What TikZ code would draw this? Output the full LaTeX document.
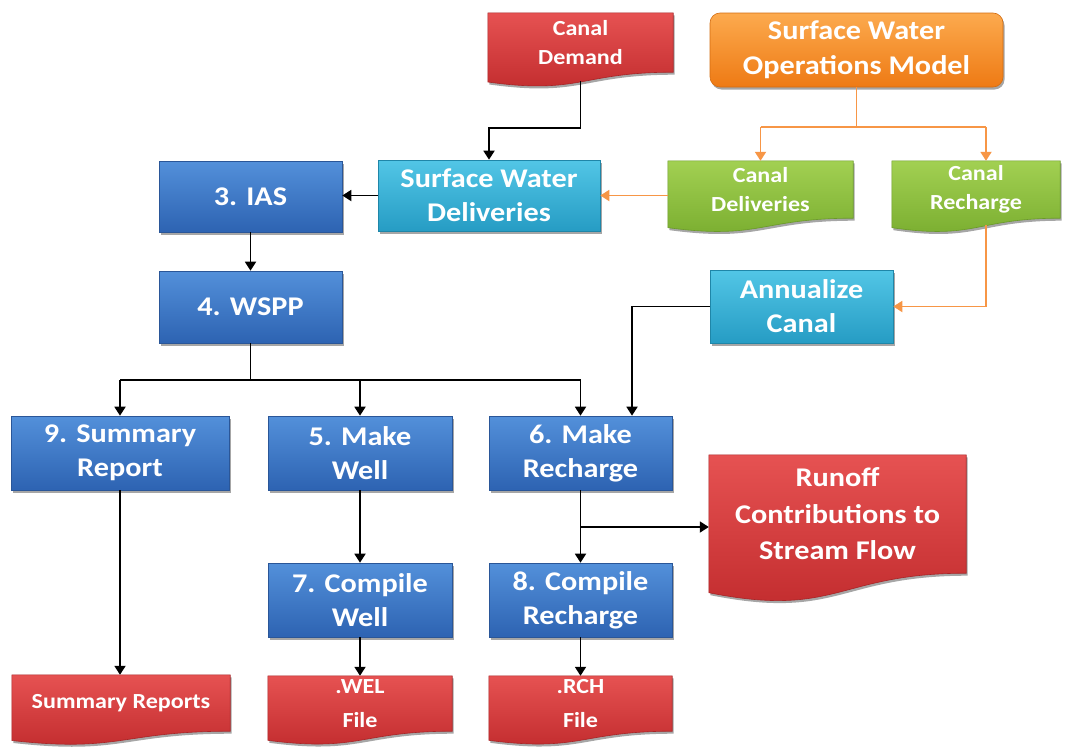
\documentclass[tikz,border=0pt]{standalone}
\usepackage{fontspec}
\setmainfont{Carlito}[FakeStretch=1.12]
\usetikzlibrary{arrows.meta,shadows,calc}
\pgfdeclarelayer{backdrop}
\pgfdeclarelayer{background}
\pgfsetlayers{backdrop,background,main}

% palettes: Top / Bot gradient stops and Edge outline
\definecolor{blueTop}{HTML}{5390DA}
\definecolor{blueBot}{HTML}{2D63B2}
\definecolor{blueEdge}{HTML}{2A5698}
\definecolor{cyanTop}{HTML}{52C6E6}
\definecolor{cyanBot}{HTML}{269CC4}
\definecolor{cyanEdge}{HTML}{1F86A8}
\definecolor{greenTop}{HTML}{A2D052}
\definecolor{greenBot}{HTML}{78AC2E}
\definecolor{greenEdge}{HTML}{6A9A28}
\definecolor{redTop}{HTML}{E65252}
\definecolor{redBot}{HTML}{C02A2C}
\definecolor{redEdge}{HTML}{A82426}
\definecolor{orangeTop}{HTML}{FCAA4E}
\definecolor{orangeBot}{HTML}{EE7A14}
\definecolor{orangeEdge}{HTML}{D46C10}
\definecolor{flowOrange}{HTML}{F79646}

\newcommand\bigtxt{\fontsize{27}{34}\selectfont\bfseries}
\newcommand\smalltxt{\fontsize{21.5}{29}\selectfont\bfseries}

\tikzset{
  shadowed/.style={drop shadow={shadow xshift=1.5pt,shadow yshift=-2.5pt,opacity=0.35,fill=black}},
  box/.style={rectangle, draw=#1Edge, line width=0.6pt,
    top color=#1Top, bottom color=#1Bot, text=white,
    align=center, inner sep=2pt, shadowed},
  docbox/.style={rectangle, text=white, align=center, inner sep=2pt},
  arr/.style={line width=1.8pt, draw=black, -{Triangle[length=9pt,width=11pt]}},
  oarr/.style={line width=1.8pt, draw=flowOrange, -{Triangle[length=9pt,width=11pt]}},
  plainline/.style={line width=1.8pt, draw=black},
  oline/.style={line width=1.8pt, draw=flowOrange},
}

% document shape with wavy bottom, drawn behind the named node
\newcommand\docback[2]{%
  \begin{pgfonlayer}{background}
    \shade[top color=#2Top, bottom color=#2Bot, draw=#2Edge, line width=0.6pt, shadowed]
      let \p1=(#1.north west), \p2=(#1.south east) in
      (\x1,\y1) -- (\x2,\y1) -- (\x2,\y2)
      .. controls ({(\x1+\x2)/2},\y2) and ({(\x1+\x2)/2},{\y2-0.3815*(\y1-\y2)}) ..
      (\x1,{\y2-0.1646*(\y1-\y2)}) -- cycle;
  \end{pgfonlayer}}

\begin{document}
\begin{tikzpicture}[x=1pt,y=-1pt]
\begin{pgfonlayer}{backdrop}
  \fill[white] (0,0) rectangle (1069,747);
\end{pgfonlayer}
\useasboundingbox (0,0) rectangle (1069,747);

% ---- top row
\node[docbox, minimum width=185pt, minimum height=59pt, font=\smalltxt] (cd) at (580.5,42.5) {Canal\\Demand};
\docback{cd}{red}
\node[box=orange, rounded corners=10pt, minimum width=293pt, minimum height=74pt, font=\fontsize{27}{35}\selectfont\bfseries] (swom) at (856.5,50) {Surface Water\\Operations Model};

% ---- second row
\node[box=blue, minimum width=183pt, minimum height=71pt, font=\bigtxt] (ias) at (250.5,196.5) {3. IAS};
\node[box=cyan, minimum width=222pt, minimum height=71pt, font=\bigtxt] (swd) at (489,195.5) {Surface Water\\Deliveries};
\node[docbox, minimum width=185pt, minimum height=57pt, font=\smalltxt] (cdel) at (760.5,189.5) {Canal\\Deliveries};
\docback{cdel}{green}
\node[docbox, minimum width=168pt, minimum height=57pt, font=\smalltxt] (crch) at (976,189.5) {Canal\\Recharge};
\docback{crch}{green}

% ---- third row
\node[box=blue, minimum width=183pt, minimum height=72pt, font=\bigtxt] (wspp) at (250.5,307) {4. WSPP};
\node[box=cyan, minimum width=183pt, minimum height=73pt, font=\bigtxt] (ann) at (801.5,306.5) {Annualize\\Canal};

% ---- processing steps
\node[box=blue, minimum width=218pt, minimum height=74pt, font=\bigtxt] (sr) at (120,453) {9. Summary\\Report};
\node[box=blue, minimum width=184pt, minimum height=74pt, font=\bigtxt] (mw) at (360,453) {5. Make\\Well};
\node[box=blue, minimum width=183pt, minimum height=74pt, font=\bigtxt] (mr) at (580.5,453) {6. Make\\Recharge};
\node[docbox, minimum width=257pt, minimum height=118pt, font=\fontsize{27}{36.5}\selectfont\bfseries] (ro) at (837.5,514) {Runoff\\Contributions to\\Stream Flow};
\docback{ro}{red}
\node[box=blue, minimum width=184pt, minimum height=74pt, font=\bigtxt] (cw) at (360,600) {7. Compile\\Well};
\node[box=blue, minimum width=183pt, minimum height=74pt, font=\bigtxt] (crc) at (580.5,600) {8. Compile\\Recharge};

% ---- outputs
\node[docbox, minimum width=218pt, minimum height=56pt, font=\smalltxt] (srs) at (121,703) {Summary Reports};
\docback{srs}{red}
\node[docbox, minimum width=184pt, minimum height=55pt, font=\fontsize{21.5}{34}\selectfont\bfseries] (wel) at (360,703.5) {.WEL\\File};
\docback{wel}{red}
\node[docbox, minimum width=183pt, minimum height=55pt, font=\fontsize{21.5}{34}\selectfont\bfseries] (rch) at (580.5,703.5) {.RCH\\File};
\docback{rch}{red}

% ---- helper levels for elbow connectors
\coordinate (demandlvl) at (0,128);
\coordinate (opslvl) at (0,127);
\coordinate (bus) at (0,380);

% ---- connectors
\draw[arr] ([yshift=-9pt]cd.south) -- (cd.south |- demandlvl) -| (swd.north);
\draw[oline] (swom.south) -- (swom.south |- opslvl);
\draw[oline] (cdel.north |- opslvl) -- ([xshift=10pt]crch.north |- opslvl);
\draw[oarr] (cdel.north |- opslvl) -- (cdel.north);
\draw[oarr] ([xshift=10pt]crch.north |- opslvl) -- ([xshift=10pt]crch.north);
\draw[oarr] (cdel.west |- swd.east) -- (swd.east);
\draw[arr] (swd.west) -- (ias.east |- swd.west);
\draw[arr] (ias.south) -- (wspp.north);
\draw[oarr] ([xshift=10pt,yshift=-7pt]crch.south) |- (ann.east);
\draw[arr] (ann.west) -| ([xshift=51.5pt]mr.north);

\draw[plainline] (wspp.south) -- (wspp.south |- bus);
\draw[plainline] (sr.north |- bus) -- (mr.north |- bus);
\draw[arr] (sr.north |- bus) -- (sr.north);
\draw[arr] (mw.north |- bus) -- (mw.north);
\draw[arr] (mr.north |- bus) -- (mr.north);

\draw[arr] (sr.south) -- (sr.south |- srs.north);
\draw[arr] (mw.south) -- (cw.north);
\draw[arr] (mr.south) -- (crc.north);
\draw[arr] ([yshift=-13pt]ro.west -| mr.south) -- ([yshift=-13pt]ro.west);
\draw[arr] (cw.south) -- (wel.north);
\draw[arr] (crc.south) -- (rch.north);
\end{tikzpicture}
\end{document}
